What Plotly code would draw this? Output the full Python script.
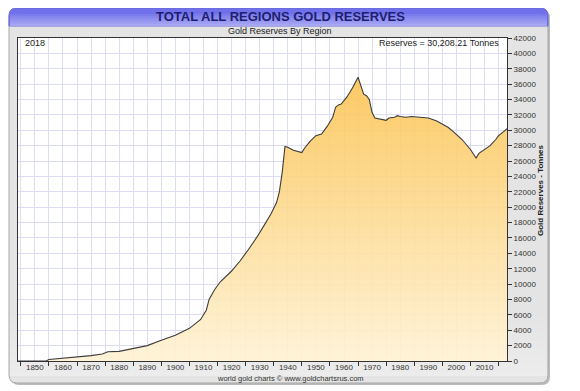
import plotly.graph_objects as go

years = [1844, 1854, 1855, 1860, 1865, 1870, 1874, 1876, 1880, 1885, 1890, 1895, 1900,
         1905, 1909, 1911, 1912, 1914, 1916, 1920, 1923, 1926, 1929, 1932, 1934, 1936,
         1937, 1938, 1939, 1940, 1942, 1945, 1946, 1948, 1950, 1952, 1954, 1956, 1957,
         1958, 1959, 1961, 1963, 1965, 1966, 1967, 1968, 1969, 1970, 1971, 1975, 1976,
         1978, 1979, 1980, 1982, 1984, 1987, 1990, 1993, 1995, 1997, 1999, 2002, 2005,
         2007, 2008, 2010, 2012, 2014, 2015, 2017, 2018]
reserves = [0, 0, 200, 350, 500, 700, 900, 1200, 1250, 1600, 2000, 2700, 3350,
            4250, 5400, 6600, 8000, 9300, 10300, 11700, 13000, 14500, 16100, 17900, 19100, 20600,
            22000, 24500, 27900, 27800, 27400, 27100, 27700, 28600, 29300, 29500, 30500, 31700, 33000,
            33300, 33400, 34300, 35500, 36900, 35700, 34700, 34500, 34000, 32300, 31600, 31300, 31600,
            31700, 31900, 31800, 31700, 31800, 31700, 31600, 31200, 30850, 30400, 29800, 28800, 27500,
            26400, 27000, 27500, 28000, 28800, 29300, 29900, 30208]

x_labels = list(range(1850, 2011, 10))
y_ticks = list(range(0, 42001, 2000))

# the page body adds an 8px offset; figure coordinates = screen coordinates - 8
OFF = 8
W, H = 580 - OFF, 391 - OFF
L, R, T, B = 18 - OFF, 507 - OFF, 38 - OFF, 361 - OFF


def px(x):
    """screen pixel x -> paper"""
    return (x - OFF - L) / (R - L)


def py(y):
    """screen pixel y -> paper"""
    return (B - (y - OFF)) / (B - T)


def rounded_path(x0, y0, x1, y1, r, top_only=False):
    def P(x, y):
        return f"{px(x):.5f},{py(y):.5f}"
    if top_only:
        s = (f"M {P(x0, y1)} L {P(x0, y0 + r)} Q {P(x0, y0)} {P(x0 + r, y0)} "
             f"L {P(x1 - r, y0)} Q {P(x1, y0)} {P(x1, y0 + r)} L {P(x1, y1)} Z")
    else:
        s = (f"M {P(x0, y0 + r)} Q {P(x0, y0)} {P(x0 + r, y0)} L {P(x1 - r, y0)} "
             f"Q {P(x1, y0)} {P(x1, y0 + r)} L {P(x1, y1 - r)} Q {P(x1, y1)} {P(x1 - r, y1)} "
             f"L {P(x0 + r, y1)} Q {P(x0, y1)} {P(x0, y1 - r)} Z")
    return s


shapes = []
# shadow
shapes.append(dict(type="path", xref="paper", yref="paper", layer="below",
                   path=rounded_path(11, 10, 550, 385, 8),
                   fillcolor="#BBBBBB", line=dict(width=0)))
# panel
shapes.append(dict(type="path", xref="paper", yref="paper", layer="below",
                   path=rounded_path(9, 8, 548, 383, 8),
                   fillcolor="#E4E4E4", line=dict(color="#A8A8A8", width=1)))
# lighter lower panel gradient strips
for i in range(10):
    y0 = 300 + i * 8
    shapes.append(dict(type="rect", xref="paper", yref="paper", layer="below",
                       x0=px(10), x1=px(547), y0=py(y0), y1=py(min(y0 + 8, 376)),
                       fillcolor=f"rgba(255,255,255,{0.035 * i:.3f})", line=dict(width=0)))
# title bar
shapes.append(dict(type="path", xref="paper", yref="paper", layer="below",
                   path=rounded_path(9, 8, 548, 26, 8, top_only=True),
                   fillcolor="#7070EA", line=dict(color="#6A6AD8", width=1)))
bar_cols = ["#7C7CEC", "#8585EE", "#8E8EEF", "#9696F1", "#9E9EF2", "#A6A6F3"]
for i, c in enumerate(bar_cols):
    y0 = 14 + i * 2
    shapes.append(dict(type="rect", xref="paper", yref="paper", layer="below",
                       x0=px(10), x1=px(547), y0=py(y0), y1=py(y0 + 2),
                       fillcolor=c, line=dict(width=0)))
# plot area white background
shapes.append(dict(type="rect", xref="paper", yref="paper", layer="below",
                   x0=0, x1=1, y0=0, y1=1, fillcolor="white", line=dict(width=0)))

fig = go.Figure()
fig.add_trace(go.Scatter(
    x=years, y=reserves, mode="lines",
    line=dict(color="#3C3C3C", width=1.1),
    fill="tozeroy",
    fillgradient=dict(type="vertical",
                      colorscale=[[0, "rgba(255,242,212,0.9)"], [1, "rgba(251,196,84,0.9)"]]),
    hoverinfo="x+y", showlegend=False,
))

font_family = "Liberation Sans, Arial, sans-serif"

fig.update_layout(
    width=W, height=H,
    margin=dict(l=L, r=W - R, t=T, b=H - B, autoexpand=False),
    paper_bgcolor="white", plot_bgcolor="rgba(0,0,0,0)",
    font=dict(family=font_family, color="#333333"),
    shapes=shapes,
    xaxis=dict(
        range=[1844, 2018], tickvals=x_labels, ticktext=[str(v) for v in x_labels],
        ticks="", showgrid=True, gridcolor="#DCDCF6", gridwidth=1,
        minor=dict(dtick=10, tick0=1845, ticks="outside", ticklen=4, tickcolor="#333",
                   showgrid=True, gridcolor="#DCDCF6"),
        showline=True, mirror=True, linecolor="#333333", linewidth=1,
        tickfont=dict(size=8, color="#333"), ticklabelstandoff=-2,
        zeroline=False, fixedrange=True,
    ),
    yaxis=dict(
        range=[0, 42000], side="right", tickvals=y_ticks, ticktext=[str(v) for v in y_ticks],
        ticks="outside", ticklen=4, tickcolor="#333",
        showgrid=True, gridcolor="#DCDCF6", gridwidth=1,
        showline=True, mirror=True, linecolor="#333333", linewidth=1,
        tickfont=dict(size=8, color="#333"), zeroline=False, fixedrange=True,
    ),
)

annotations = [
    dict(text="<b>TOTAL ALL REGIONS GOLD RESERVES</b>", x=px(280), y=py(17),
         font=dict(size=13, color="#1E1E70")),
    dict(text="Gold Reserves By Region", x=px(280), y=py(31), font=dict(size=9, color="#222")),
    dict(text="2018", x=px(23), y=py(43), xanchor="left", font=dict(size=9, color="#222")),
    dict(text="Reserves = 30,208.21 Tonnes", x=px(501), y=py(43), xanchor="right",
         font=dict(size=9, color="#222")),
    dict(text="world gold charts © www.goldchartsrus.com", x=px(290), y=py(378),
         font=dict(size=7.5, color="#333")),
    dict(text="<b>Gold Reserves - Tonnes</b>", x=px(540), y=py(190), textangle=-90,
         font=dict(size=8, color="#222")),
]
for a in annotations:
    a.update(xref="paper", yref="paper", showarrow=False)
    a.setdefault("xanchor", "center")
    a.setdefault("yanchor", "middle")
fig.update_layout(annotations=annotations)

fig.write_html("out.html")
